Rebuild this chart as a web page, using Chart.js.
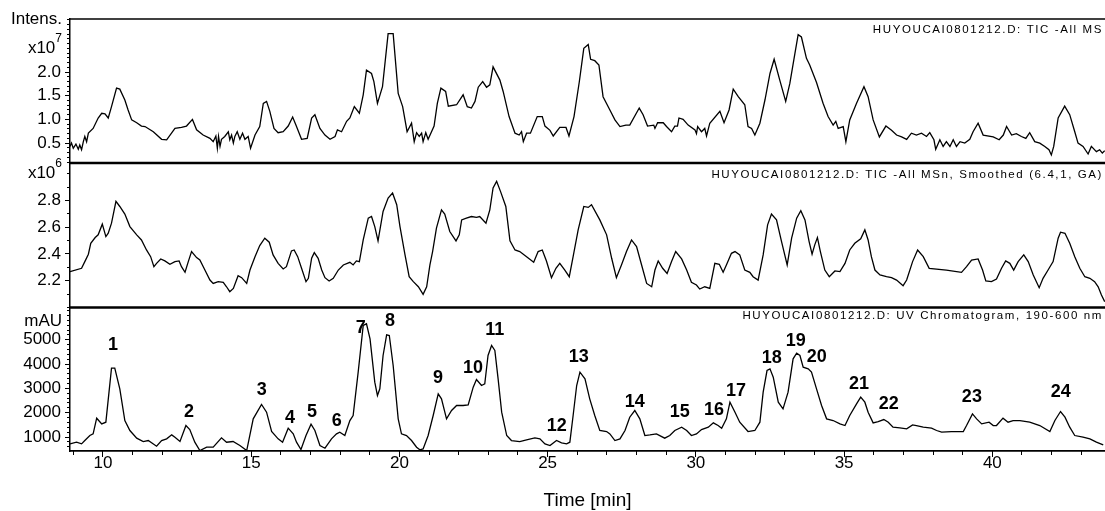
<!DOCTYPE html>
<html>
<head>
<meta charset="utf-8">
<script src="https://cdn.jsdelivr.net/npm/chart.js@4"></script>
<style>
  html, body { margin: 0; padding: 0; background: #fff; }
  #wrap { position: relative; width: 1105px; height: 511px; overflow: hidden; }
  #wrap canvas { position: absolute; left: 0; }
</style>
</head>
<body>
<div id="wrap">
  <canvas id="ticChart" width="1105" height="165" style="top:0px"></canvas>
  <canvas id="msnChart" width="1105" height="160" style="top:150px"></canvas>
  <canvas id="uvChart" width="1105" height="206" style="top:305px"></canvas>
</div>
<script>
"use strict";

// ---- TIC All MS (x10^7) ----
const ticTime = [8.89, 8.94, 9.00, 9.09, 9.17, 9.22, 9.28, 9.34, 9.39, 9.45, 9.51, 9.67, 9.84, 9.96, 10.07, 10.18, 10.29, 10.46, 10.57, 10.74,
  10.85, 10.97, 11.14, 11.30, 11.42, 11.70, 11.98, 12.15, 12.43, 12.65, 12.82, 13.02, 13.16, 13.38, 13.61, 13.72, 13.81, 13.86, 13.90, 13.95,
  14.00, 14.11, 14.23, 14.28, 14.34, 14.40, 14.45, 14.53, 14.62, 14.71, 14.79, 14.90, 14.98, 15.13, 15.29, 15.41, 15.52, 15.63, 15.77, 15.91,
  16.08, 16.25, 16.40, 16.51, 16.70, 16.89, 17.04, 17.15, 17.32, 17.49, 17.66, 17.83, 17.91, 18.05, 18.22, 18.33, 18.48, 18.65, 18.78, 18.89,
  19.06, 19.14, 19.26, 19.43, 19.62, 19.79, 19.96, 20.11, 20.26, 20.41, 20.50, 20.58, 20.67, 20.75, 20.80, 20.89, 20.97, 21.17, 21.28, 21.40,
  21.56, 21.65, 21.93, 22.15, 22.29, 22.43, 22.55, 22.66, 22.81, 22.94, 23.05, 23.16, 23.39, 23.50, 23.70, 23.90, 24.04, 24.12, 24.18, 24.29,
  24.42, 24.65, 24.82, 24.91, 25.08, 25.19, 25.41, 25.62, 25.72, 25.89, 26.07, 26.22, 26.37, 26.45, 26.59, 26.73, 26.87, 27.10, 27.27, 27.44,
  27.64, 27.77, 28.09, 28.22, 28.37, 28.58, 28.62, 28.71, 28.90, 29.01, 29.18, 29.29, 29.38, 29.43, 29.57, 29.74, 29.97, 30.02, 30.06, 30.19,
  30.30, 30.36, 30.47, 30.81, 30.95, 31.12, 31.26, 31.43, 31.65, 31.76, 31.88, 31.99, 32.16, 32.33, 32.50, 32.64, 32.83, 33.03, 33.17, 33.34,
  33.45, 33.56, 33.73, 33.84, 34.07, 34.29, 34.46, 34.63, 34.72, 34.80, 34.97, 35.06, 35.19, 35.42, 35.67, 35.81, 35.98, 36.19, 36.41, 36.60,
  36.77, 36.94, 37.11, 37.27, 37.44, 37.61, 37.78, 37.89, 38.03, 38.09, 38.23, 38.34, 38.45, 38.57, 38.68, 38.79, 38.91, 39.07, 39.24, 39.35,
  39.52, 39.69, 40.03, 40.23, 40.37, 40.48, 40.65, 40.81, 40.98, 41.13, 41.26, 41.43, 41.60, 41.77, 41.91, 41.99, 42.07, 42.22, 42.44, 42.61,
  42.78, 42.89, 43.06, 43.23, 43.34, 43.51, 43.62, 43.71, 43.79];
const ticValue = [0.43, 0.50, 0.39, 0.48, 0.37, 0.46, 0.36, 0.53, 0.64, 0.53, 0.71, 0.81, 1.03, 1.13, 1.12, 1.03, 1.27, 1.66, 1.64, 1.41,
  1.20, 0.99, 0.93, 0.86, 0.85, 0.74, 0.58, 0.57, 0.81, 0.83, 0.86, 1.00, 0.78, 0.67, 0.60, 0.53, 0.65, 0.39, 0.64, 0.43,
  0.58, 0.64, 0.74, 0.57, 0.67, 0.50, 0.64, 0.74, 0.58, 0.71, 0.58, 0.64, 0.39, 0.67, 0.85, 1.34, 1.38, 1.17, 0.81, 0.72,
  0.74, 0.86, 1.05, 0.88, 0.58, 0.60, 1.03, 1.10, 0.81, 0.67, 0.58, 0.64, 0.78, 0.74, 0.96, 1.03, 1.27, 1.13, 1.52, 2.04,
  1.97, 1.80, 1.34, 1.69, 2.81, 2.81, 1.55, 1.27, 0.74, 0.92, 0.53, 0.72, 0.64, 0.71, 0.53, 0.72, 0.58, 0.86, 1.34, 1.66,
  1.59, 1.28, 1.31, 1.52, 1.27, 1.24, 1.38, 1.68, 1.80, 1.68, 1.73, 2.11, 1.83, 1.59, 1.06, 0.71, 0.67, 0.74, 0.53, 0.71,
  0.71, 1.06, 1.06, 0.86, 0.77, 0.65, 0.83, 0.83, 0.65, 1.06, 1.80, 2.50, 2.58, 2.27, 2.24, 2.15, 1.48, 1.20, 0.99, 0.85,
  0.88, 0.88, 1.24, 1.10, 0.86, 0.88, 0.81, 0.93, 0.93, 0.85, 0.74, 0.86, 0.86, 1.03, 1.00, 0.88, 0.78, 0.70, 0.85, 0.74,
  0.81, 0.65, 0.92, 1.17, 0.93, 1.20, 1.64, 1.48, 1.31, 0.85, 0.81, 0.67, 0.92, 1.41, 1.97, 2.27, 1.83, 1.38, 1.76, 2.39,
  2.79, 2.74, 2.29, 2.15, 1.78, 1.34, 1.06, 0.88, 0.96, 0.81, 0.85, 0.53, 0.99, 1.34, 1.69, 1.48, 0.99, 0.63, 0.86, 0.77,
  0.67, 0.63, 0.58, 0.71, 0.67, 0.71, 0.64, 0.72, 0.57, 0.37, 0.57, 0.43, 0.53, 0.43, 0.57, 0.43, 0.53, 0.50, 0.58, 0.74,
  0.92, 0.67, 0.63, 0.57, 0.67, 0.85, 0.67, 0.70, 0.64, 0.60, 0.72, 0.53, 0.50, 0.43, 0.36, 0.25, 0.43, 1.03, 1.28, 1.10,
  0.74, 0.50, 0.43, 0.27, 0.43, 0.32, 0.36, 0.29, 0.34];
const ticTickLabels = ["0.5", "1.0", "1.5", "2.0"];

// ---- TIC All MSn, smoothed (x10^6) ----
const msnTime = [8.89, 9.28, 9.39, 9.51, 9.59, 9.74, 9.84, 9.98, 10.10, 10.18, 10.29, 10.44, 10.57, 10.74, 10.91, 11.14, 11.30, 11.47, 11.61, 11.72,
  11.81, 11.95, 12.09, 12.26, 12.43, 12.57, 12.65, 12.77, 12.88, 12.99, 13.16, 13.27, 13.44, 13.61, 13.72, 13.89, 14.06, 14.17, 14.28, 14.40,
  14.56, 14.68, 14.85, 14.96, 15.13, 15.29, 15.46, 15.61, 15.74, 15.91, 16.08, 16.19, 16.36, 16.45, 16.57, 16.70, 16.85, 16.93, 17.04, 17.13,
  17.26, 17.38, 17.49, 17.63, 17.77, 17.94, 18.11, 18.33, 18.44, 18.55, 18.65, 18.78, 18.95, 19.06, 19.17, 19.28, 19.45, 19.62, 19.77, 19.91,
  20.02, 20.19, 20.33, 20.47, 20.64, 20.80, 20.92, 21.03, 21.12, 21.25, 21.42, 21.53, 21.70, 21.91, 22.02, 22.10, 22.26, 22.43, 22.60, 22.71,
  22.92, 23.05, 23.16, 23.28, 23.41, 23.59, 23.73, 23.90, 24.06, 24.29, 24.53, 24.68, 24.82, 24.96, 25.13, 25.28, 25.41, 25.58, 25.73, 25.86,
  26.03, 26.22, 26.37, 26.48, 26.76, 26.99, 27.16, 27.32, 27.49, 27.66, 27.83, 28.00, 28.17, 28.34, 28.51, 28.62, 28.73, 28.88, 29.03, 29.18,
  29.32, 29.52, 29.69, 29.85, 30.02, 30.13, 30.30, 30.47, 30.64, 30.79, 30.92, 31.03, 31.20, 31.32, 31.48, 31.65, 31.82, 31.93, 32.10, 32.27,
  32.42, 32.55, 32.72, 32.89, 33.08, 33.23, 33.40, 33.54, 33.68, 33.82, 33.92, 34.01, 34.10, 34.20, 34.35, 34.50, 34.69, 34.86, 35.03, 35.19,
  35.36, 35.56, 35.70, 35.81, 35.92, 36.04, 36.21, 36.43, 36.60, 36.77, 36.99, 37.11, 37.31, 37.48, 37.67, 37.87, 38.45, 38.96, 39.13, 39.30,
  39.52, 39.67, 39.78, 39.97, 40.14, 40.31, 40.45, 40.59, 40.72, 40.87, 41.06, 41.21, 41.38, 41.58, 41.71, 41.88, 42.05, 42.22, 42.30, 42.45,
  42.61, 42.78, 42.95, 43.12, 43.29, 43.45, 43.57, 43.68, 43.79];
const msnValue = [2.268, 2.293, 2.343, 2.398, 2.480, 2.523, 2.543, 2.623, 2.530, 2.555, 2.630, 2.793, 2.755, 2.698, 2.605, 2.543, 2.505, 2.430, 2.380, 2.305,
  2.330, 2.363, 2.348, 2.323, 2.343, 2.348, 2.305, 2.263, 2.343, 2.418, 2.373, 2.355, 2.280, 2.205, 2.180, 2.193, 2.188, 2.155, 2.118, 2.143,
  2.238, 2.223, 2.180, 2.280, 2.380, 2.463, 2.518, 2.488, 2.393, 2.330, 2.288, 2.305, 2.423, 2.430, 2.380, 2.293, 2.193, 2.218, 2.368, 2.410,
  2.368, 2.280, 2.223, 2.198, 2.218, 2.280, 2.318, 2.338, 2.318, 2.348, 2.343, 2.505, 2.668, 2.680, 2.605, 2.498, 2.718, 2.818, 2.855, 2.768,
  2.605, 2.393, 2.230, 2.193, 2.155, 2.098, 2.155, 2.318, 2.418, 2.593, 2.730, 2.698, 2.568, 2.498, 2.543, 2.655, 2.668, 2.680, 2.673, 2.680,
  2.630, 2.730, 2.893, 2.943, 2.868, 2.755, 2.498, 2.430, 2.418, 2.380, 2.338, 2.418, 2.430, 2.348, 2.223, 2.293, 2.330, 2.280, 2.230, 2.380,
  2.580, 2.755, 2.748, 2.768, 2.655, 2.543, 2.368, 2.223, 2.318, 2.418, 2.505, 2.455, 2.318, 2.180, 2.155, 2.280, 2.348, 2.293, 2.255, 2.343,
  2.418, 2.363, 2.280, 2.188, 2.168, 2.138, 2.155, 2.143, 2.330, 2.323, 2.263, 2.318, 2.405, 2.418, 2.393, 2.280, 2.263, 2.230, 2.205, 2.393,
  2.618, 2.698, 2.655, 2.493, 2.318, 2.518, 2.668, 2.723, 2.655, 2.493, 2.398, 2.468, 2.523, 2.418, 2.280, 2.230, 2.273, 2.268, 2.330, 2.430,
  2.480, 2.513, 2.580, 2.505, 2.380, 2.280, 2.243, 2.230, 2.223, 2.205, 2.163, 2.205, 2.343, 2.430, 2.380, 2.293, 2.280, 2.263, 2.305, 2.355,
  2.363, 2.280, 2.198, 2.193, 2.213, 2.293, 2.348, 2.330, 2.280, 2.343, 2.393, 2.343, 2.243, 2.148, 2.218, 2.280, 2.343, 2.518, 2.563, 2.555,
  2.480, 2.380, 2.293, 2.230, 2.218, 2.193, 2.155, 2.093, 2.043];
const msnTickLabels = ["2.2", "2.4", "2.6", "2.8"];

// ---- UV chromatogram 190-600 nm (mAU) ----
const uvTime = [8.89, 9.11, 9.28, 9.39, 9.56, 9.67, 9.79, 9.96, 10.10, 10.29, 10.40, 10.57, 10.74, 10.91, 11.14, 11.36, 11.53, 11.81, 11.98, 12.15,
  12.32, 12.43, 12.60, 12.80, 12.93, 13.10, 13.27, 13.50, 13.72, 14.00, 14.17, 14.39, 14.62, 14.85, 15.07, 15.35, 15.52, 15.69, 15.91, 16.06,
  16.25, 16.42, 16.53, 16.68, 16.85, 17.02, 17.15, 17.32, 17.49, 17.71, 17.88, 17.99, 18.16, 18.33, 18.44, 18.61, 18.78, 18.89, 19.01, 19.17,
  19.26, 19.34, 19.45, 19.57, 19.66, 19.79, 19.96, 20.07, 20.24, 20.41, 20.58, 20.69, 20.80, 20.97, 21.14, 21.31, 21.42, 21.59, 21.76, 21.93,
  22.15, 22.32, 22.49, 22.60, 22.77, 22.88, 22.99, 23.11, 23.22, 23.33, 23.45, 23.62, 23.78, 24.06, 24.29, 24.57, 24.74, 24.91, 25.08, 25.30,
  25.47, 25.64, 25.75, 25.86, 25.98, 26.09, 26.26, 26.42, 26.59, 26.76, 26.99, 27.10, 27.27, 27.44, 27.61, 27.77, 27.94, 28.11, 28.28, 28.45,
  28.67, 28.95, 29.12, 29.29, 29.52, 29.69, 29.85, 30.02, 30.19, 30.42, 30.59, 30.75, 30.87, 31.03, 31.15, 31.32, 31.48, 31.76, 31.99, 32.16,
  32.27, 32.40, 32.50, 32.61, 32.78, 32.94, 33.11, 33.28, 33.40, 33.51, 33.62, 33.79, 33.90, 34.07, 34.24, 34.41, 34.63, 34.86, 35.03, 35.19,
  35.42, 35.56, 35.70, 35.81, 35.98, 36.15, 36.34, 36.49, 36.65, 36.88, 37.11, 37.31, 37.44, 37.67, 37.95, 38.12, 38.29, 38.62, 39.02, 39.13,
  39.33, 39.47, 39.64, 39.89, 40.03, 40.14, 40.36, 40.53, 40.70, 40.93, 41.26, 41.60, 41.94, 42.11, 42.30, 42.45, 42.61, 42.78, 43.06, 43.29,
  43.51, 43.74];
const uvValue = [718, 786, 718, 855, 1061, 1129, 1774, 1541, 1610, 3832, 3832, 2982, 1678, 1267, 951, 814, 855, 622, 855, 924,
  1088, 992, 814, 1472, 1308, 786, 443, 580, 580, 965, 786, 814, 649, 443, 1747, 2337, 2021, 1225, 924, 786,
  1363, 1129, 786, 485, 1061, 1527, 1267, 649, 539, 924, 1129, 1198, 1061, 1678, 1884, 3668, 5588, 5657, 5040, 3256,
  2707, 2982, 4354, 5204, 5177, 3942, 1747, 1129, 1061, 855, 580, 471, 512, 1061, 1884, 2776, 2570, 1747, 2090, 2296,
  2296, 2323, 3050, 3366, 3119, 3187, 4354, 4765, 4559, 3393, 2021, 1061, 855, 814, 883, 965, 924, 718, 649, 855,
  759, 718, 786, 1884, 3119, 3668, 3393, 2570, 1884, 1267, 1225, 1129, 855, 924, 1267, 1815, 2090, 1747, 1061, 1088,
  1129, 951, 1061, 1267, 1404, 1267, 1061, 1129, 1308, 1404, 1582, 1472, 1363, 1747, 2433, 2021, 1610, 1225, 1267, 1610,
  2844, 3736, 3805, 3462, 2433, 2158, 2844, 4216, 4450, 4354, 3873, 3805, 3668, 2982, 2296, 1747, 1678, 1541, 1472, 1884,
  2364, 2639, 2433, 2021, 1582, 1637, 1719, 1610, 1404, 1376, 1335, 1500, 1472, 1404, 1363, 1267, 1198, 1225, 1225, 1472,
  1953, 1747, 1541, 1610, 1472, 1472, 1774, 1610, 1678, 1678, 1610, 1472, 1225, 1678, 2049, 1815, 1404, 1061, 992, 924,
  786, 677];
const uvTickLabels = ["1000", "2000", "3000", "4000", "5000"];

// peak numbers written over the UV trace (anchor in time / mAU)
const peakNames = ["1", "2", "3", "4", "5", "6", "7", "8", "9", "10", "11", "12",
  "13", "14", "15", "16", "17", "18", "19", "20", "21", "22", "23", "24"];
const peakTime = [10.34, 12.90, 15.36, 16.31, 17.05, 17.89, 18.70, 19.68, 21.30, 22.48, 23.22, 25.31,
  26.05, 27.94, 29.46, 30.61, 31.35, 32.56, 33.37, 34.08, 35.50, 36.51, 39.31, 42.31];
const peakLevel = [4765, 2008, 2914, 1762, 2008, 1638, 5465, 5753, 3408, 3819, 5383, 1432,
  4272, 2420, 2008, 2091, 2873, 4231, 4930, 4272, 3161, 2338, 2626, 2832];

const timeTickLabels = ["10", "15", "20", "25", "30", "35", "40"];
const TIME_MIN = 8.89;
const TIME_MAX = 43.8;

const FONT = '"Liberation Sans", Arial, Helvetica, sans-serif';

function toPoints(times, values) {
    return times.map((t, i) => ({ x: t, y: values[i] }));
}

// keep the axis boxes from asking for extra room around the plot
function fixWidth(w) {
    return (s) => { s.width = w; s.paddingTop = 0; s.paddingBottom = 0; };
}
function fixHeight(h) {
    return (s) => { s.height = h; s.paddingLeft = 0; s.paddingRight = 0; };
}
// labelled ticks come straight from the tick label list
function ticksFrom(labels) {
    return (s) => { s.ticks = labels.map((l) => ({ value: Number(l) })); };
}

// ===========================
// panel decorations: separators, trace titles, axis units, peak numbers
// ===========================
const panelDecor = {
    id: "panelDecor",
    afterDraw(chart, args, o) {
        const { ctx, chartArea: a } = chart;
        const yScale = chart.scales.y;
        ctx.save();
        ctx.fillStyle = "#000";
        ctx.strokeStyle = "#000";

        if (o.topLine) {
            ctx.lineWidth = o.topLine;
            ctx.beginPath();
            ctx.moveTo(a.left - 1, a.top);
            ctx.lineTo(a.right, a.top);
            ctx.stroke();
        }

        ctx.font = "11.5px " + FONT;
        ctx.letterSpacing = "1.6px";
        ctx.textAlign = "right";
        ctx.textBaseline = "alphabetic";
        ctx.fillText(o.title, a.right - 2, a.top + o.titleDy);
        ctx.letterSpacing = "0px";

        (o.units || []).forEach((u) => {
            const y = u.value !== undefined ? yScale.getPixelForValue(u.value) : a.top + u.dy;
            let xr = 62;
            ctx.textBaseline = "middle";
            if (u.sup) {
                ctx.font = "12px " + FONT;
                const w = ctx.measureText(u.sup).width;
                ctx.textAlign = "left";
                ctx.fillText(u.sup, xr - w, y - 10);
                xr -= w;
            }
            ctx.font = "17px " + FONT;
            ctx.textAlign = "right";
            ctx.fillText(u.text, xr, y);
        });

        if (o.peaks) {
            const xScale = chart.scales.x;
            ctx.font = "bold 18px " + FONT;
            ctx.textAlign = "center";
            ctx.textBaseline = "middle";
            peakNames.forEach((name, i) => {
                ctx.fillText(name, xScale.getPixelForValue(peakTime[i]), yScale.getPixelForValue(peakLevel[i]));
            });
        }
        ctx.restore();
    },
};

function makePanel(id, times, values, yMin, yMax, tickLabels, minorStep, decor, padding, withTime) {
    const scales = {
        x: {
            type: "linear",
            min: TIME_MIN,
            max: TIME_MAX,
            display: false,
        },
        y: {
            type: "linear",
            position: "left",
            min: yMin,
            max: yMax,
            weight: 1,
            afterFit: fixWidth(70),
            afterBuildTicks: ticksFrom(tickLabels),
            ticks: {
                autoSkip: false,
                padding: 4,
                color: "#000",
                font: { family: FONT, size: 17 },
                callback: (v, i) => tickLabels[i],
            },
            grid: { drawOnChartArea: false, tickLength: 5, tickColor: "#000", tickWidth: 1 },
            border: { display: true, color: "#000", width: 1.5 },
        },
        yMinor: {
            type: "linear",
            position: "left",
            min: yMin,
            max: yMax,
            weight: 0,
            afterFit: fixWidth(0),
            ticks: { stepSize: minorStep, includeBounds: false, autoSkip: false, display: false, maxTicksLimit: 200 },
            grid: { drawOnChartArea: false, tickLength: 3, tickColor: "#000", tickWidth: 1 },
            border: { display: false },
        },
    };

    if (withTime) {
        scales.x = {
            type: "linear",
            position: "bottom",
            min: TIME_MIN,
            max: TIME_MAX,
            weight: 1,
            afterFit: fixHeight(60),
            afterBuildTicks: ticksFrom(timeTickLabels),
            ticks: {
                autoSkip: false,
                maxRotation: 0,
                padding: -4,
                color: "#000",
                font: { family: FONT, size: 17 },
                callback: (v, i) => timeTickLabels[i],
            },
            grid: { drawOnChartArea: false, tickLength: 6, tickColor: "#000", tickWidth: 1 },
            border: { display: true, color: "#000", width: 1.7 },
            title: {
                display: true,
                text: "Time [min]",
                color: "#000",
                font: { family: FONT, size: 19 },
                padding: { top: 0, bottom: -1 },
            },
        };
        scales.xMinor = {
            type: "linear",
            position: "bottom",
            min: TIME_MIN,
            max: TIME_MAX,
            weight: 0,
            afterFit: fixHeight(0),
            ticks: { stepSize: 1, includeBounds: false, autoSkip: false, display: false, maxTicksLimit: 200 },
            grid: { drawOnChartArea: false, tickLength: 4, tickColor: "#000", tickWidth: 1 },
            border: { display: false },
        };
    }

    return new Chart(document.getElementById(id), {
        type: "line",
        data: {
            datasets: [
                {
                    data: toPoints(times, values),
                    xAxisID: "x",
                    yAxisID: "y",
                    borderColor: "#000",
                    borderWidth: 1.3,
                    pointRadius: 0,
                    tension: 0,
                    fill: false,
                },
            ],
        },
        options: {
            responsive: false,
            maintainAspectRatio: false,
            devicePixelRatio: 1,
            animation: false,
            events: [],
            layout: { padding: padding },
            scales,
            plugins: {
                legend: { display: false },
                tooltip: { enabled: false },
                panelDecor: decor,
            },
        },
        plugins: [panelDecor],
    });
}

makePanel("ticChart", ticTime, ticValue, 0.08, 3.12, ticTickLabels, 0.1,
    {
        topLine: 1.7,
        title: "HUYOUCAI0801212.D: TIC -All MS",
        titleDy: 13.5,
        units: [{ text: "Intens.", dy: 0 }, { text: "x10", sup: "7", value: 2.5 }],
    },
    { top: 19, right: 0, bottom: 2, left: 0 }, false);

makePanel("msnChart", msnTime, msnValue, 2.0, 3.08, msnTickLabels, 0.1,
    {
        topLine: 2.5,
        title: "HUYOUCAI0801212.D: TIC -All MSn, Smoothed (6.4,1, GA)",
        titleDy: 14.5,
        units: [{ text: "x10", sup: "6", value: 3.0 }],
    },
    { top: 13, right: 0, bottom: 2.5, left: 0 }, false);

makePanel("uvChart", uvTime, uvValue, 424, 6329, uvTickLabels, 200,
    {
        topLine: 2.5,
        title: "HUYOUCAI0801212.D: UV Chromatogram, 190-600 nm",
        titleDy: 11.5,
        units: [{ text: "mAU", dy: 13.5 }],
        peaks: true,
    },
    { top: 2.5, right: 0, bottom: 0, left: 0 }, true);
</script>
</body>
</html>
